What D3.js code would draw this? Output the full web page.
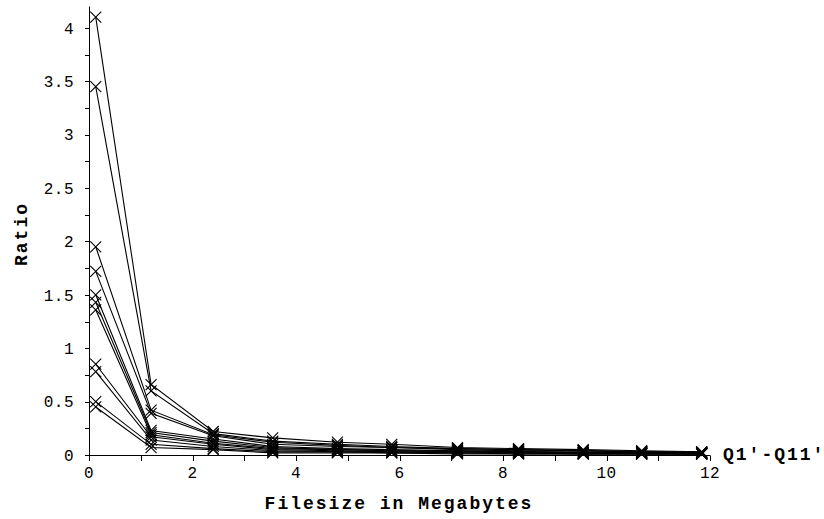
<!DOCTYPE html>
<html>
<head>
<meta charset="utf-8">
<script src="https://cdn.jsdelivr.net/npm/d3@7"></script>
<style>
  html, body { margin: 0; padding: 0; background: #fff; }
  svg { display: block; }
  .tick-label { font-family: "Liberation Mono", "DejaVu Sans Mono", monospace; font-size: 16px; fill: #000; letter-spacing: 0.5px; }
  .title { font-family: "Liberation Mono", "DejaVu Sans Mono", monospace; font-size: 18px; font-weight: bold; fill: #000; letter-spacing: 2px; }
</style>
</head>
<body>
<svg id="chart" width="824" height="519"></svg>
<script>
// ---- data ----
const fileSizesMB = [0.13, 1.2, 2.4, 3.55, 4.8, 5.85, 7.12, 8.3, 9.55, 10.68, 11.84];
const q1  = [4.10, 0.66, 0.22, 0.16, 0.12, 0.10, 0.07, 0.06, 0.05, 0.04, 0.03];
const q2  = [3.45, 0.60, 0.20, 0.13, 0.10, 0.08, 0.06, 0.05, 0.04, 0.03, 0.03];
const q3  = [1.95, 0.42, 0.19, 0.12, 0.09, 0.07, 0.06, 0.05, 0.04, 0.03, 0.02];
const q4  = [1.72, 0.39, 0.18, 0.10, 0.08, 0.07, 0.05, 0.04, 0.04, 0.03, 0.02];
const q5  = [1.50, 0.23, 0.15, 0.08, 0.06, 0.05, 0.04, 0.03, 0.03, 0.02, 0.02];
const q6  = [1.43, 0.21, 0.13, 0.07, 0.05, 0.04, 0.04, 0.03, 0.02, 0.02, 0.02];
const q7  = [1.36, 0.19, 0.11, 0.06, 0.05, 0.04, 0.03, 0.03, 0.02, 0.02, 0.01];
const q8  = [0.85, 0.17, 0.10, 0.05, 0.04, 0.03, 0.03, 0.02, 0.02, 0.01, 0.01];
const q9  = [0.78, 0.14, 0.08, 0.04, 0.03, 0.03, 0.02, 0.02, 0.01, 0.01, 0.01];
const q10 = [0.50, 0.10, 0.06, 0.03, 0.03, 0.02, 0.02, 0.01, 0.01, 0.01, 0.01];
const q11 = [0.45, 0.07, 0.05, 0.02, 0.02, 0.02, 0.01, 0.01, 0.01, 0.01, 0.01];
const seriesValues = [q1, q2, q3, q4, q5, q6, q7, q8, q9, q10, q11];
const xTickLabels = [0, 2, 4, 6, 8, 10, 12];
const yTickLabels = [0, 0.5, 1, 1.5, 2, 2.5, 3, 3.5, 4];
const xTitle = "Filesize in Megabytes";
const yTitle = "Ratio";
const seriesLabel = "Q1\u2032-Q11\u2032";

// ---- layout ----
const svg = d3.select("#chart");
const x = d3.scaleLinear().domain([0, 12]).range([89, 710]);
const y = d3.scaleLinear().domain([0, 4.2]).range([455, 6.5]);

const ink = "#000";

// Y axis
const yAxis = svg.append("g").attr("transform", `translate(${x(0)},0)`);
yAxis.append("line").attr("x1", 0.5).attr("x2", 0.5).attr("y1", y(0)).attr("y2", y(4.2)).attr("stroke", ink);
yAxis.selectAll("line.tk").data(d3.range(0, 4.01, 0.25)).join("line")
  .attr("class", "tk")
  .attr("x1", -4).attr("x2", 0.5)
  .attr("y1", d => Math.round(y(d)) + 0.5).attr("y2", d => Math.round(y(d)) + 0.5)
  .attr("stroke", ink);
yAxis.selectAll("text").data(yTickLabels).join("text")
  .attr("class", "tick-label")
  .attr("x", -15).attr("y", d => y(d))
  .attr("dy", "0.36em")
  .attr("text-anchor", "end")
  .text(d => d3.format("")(d));

// X axis
const xAxis = svg.append("g").attr("transform", `translate(0,${y(0)})`);
xAxis.append("line").attr("x1", x(0)).attr("x2", x(12)).attr("y1", 0.5).attr("y2", 0.5).attr("stroke", ink);
xAxis.selectAll("line.tk").data(d3.range(0, 13, 1)).join("line")
  .attr("class", "tk")
  .attr("x1", d => Math.round(x(d)) + 0.5).attr("x2", d => Math.round(x(d)) + 0.5)
  .attr("y1", 0.5).attr("y2", 6)
  .attr("stroke", ink);
xAxis.selectAll("text").data(xTickLabels).join("text")
  .attr("class", "tick-label")
  .attr("x", d => x(d)).attr("y", 23)
  .attr("text-anchor", "middle")
  .text(d => d);

// Titles
svg.append("text").attr("class", "title")
  .attr("x", 399).attr("y", 509).attr("text-anchor", "middle").text(xTitle);
svg.append("text").attr("class", "title")
  .attr("transform", "translate(27,234) rotate(-90)")
  .attr("text-anchor", "middle").text(yTitle);

// Lines
const line = d3.line().x((d, i) => x(fileSizesMB[i])).y(d => y(d));
const plot = svg.append("g");
plot.selectAll("path.series").data(seriesValues).join("path")
  .attr("class", "series")
  .attr("d", d => line(d))
  .attr("fill", "none")
  .attr("stroke", ink)
  .attr("stroke-width", 1.1);

// Markers (X shapes)
const m = 5.5;
const pts = seriesValues.flatMap(s => s.map((v, i) => [fileSizesMB[i], v]));
const mk = plot.selectAll("g.mk").data(pts).join("g")
  .attr("class", "mk")
  .attr("transform", d => `translate(${x(d[0])},${y(d[1])})`);
mk.append("path")
  .attr("d", `M${-m},${-m}L${m},${m}M${-m},${m}L${m},${-m}`)
  .attr("stroke", ink).attr("stroke-width", 1.1).attr("fill", "none");

// Series label
const last = seriesValues[seriesValues.length - 1];
svg.append("text").attr("class", "title")
  .attr("x", 723).attr("y", y(0) + 5)
  .attr("letter-spacing", "1px")
  .text(seriesLabel);
</script>
</body>
</html>
